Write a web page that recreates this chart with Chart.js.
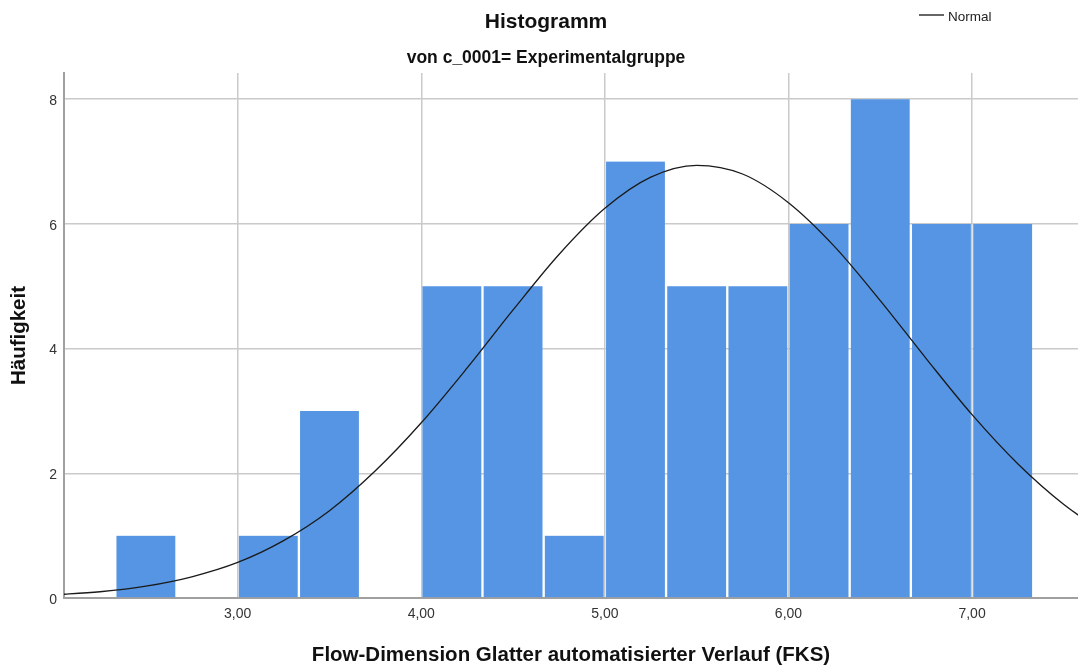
<!DOCTYPE html>
<html>
<head>
<meta charset="utf-8">
<title>Histogramm</title>
<script src="https://cdn.jsdelivr.net/npm/chart.js@4.4.1/dist/chart.umd.min.js"></script>
<style>
  html, body { margin: 0; padding: 0; background: #fff; }
  #wrap { width: 1078px; height: 670px; position: relative; }
</style>
</head>
<body>
<div id="wrap"><canvas id="histChart"></canvas></div>
<script>
// class midpoints (class width 1/3) and frequencies
const binMids = [2.5, 2.8333, 3.1667, 3.5, 3.8333, 4.1667, 4.5, 4.8333, 5.1667, 5.5, 5.8333, 6.1667, 6.5, 6.8333, 7.1667];
const counts  = [1, 0, 1, 3, 0, 5, 5, 1, 7, 5, 5, 6, 8, 6, 6];

// normal curve, read every 0.25
const curveX = [2.0, 2.25, 2.5, 2.75, 3.0, 3.25, 3.5, 3.75, 4.0, 4.25, 4.5, 4.75, 5.0, 5.25, 5.5, 5.75, 6.0, 6.25, 6.5, 6.75, 7.0, 7.25, 7.5, 7.75];
const curveY = [0.05, 0.10, 0.19, 0.34, 0.57, 0.92, 1.40, 2.04, 2.81, 3.69, 4.62, 5.51, 6.25, 6.75, 6.94, 6.80, 6.34, 5.64, 4.77, 3.84, 2.94, 2.15, 1.50, 0.99];

const xTicks = [3, 4, 5, 6, 7];
const yTicks = [0, 2, 4, 6, 8];

const FONT = '"Liberation Sans", Arial, sans-serif';

// title, subtitle and the little legend entry above the plot
const headerText = {
  id: 'headerText',
  afterDraw(chart) {
    const c = chart.ctx;
    c.save();
    c.fillStyle = '#111';
    c.textAlign = 'center';
    c.textBaseline = 'alphabetic';
    c.font = 'bold 21px ' + FONT;
    c.fillText('Histogramm', 546, 28);
    c.font = 'bold 17.5px ' + FONT;
    c.fillText('von c_0001= Experimentalgruppe', 546, 63);

    c.strokeStyle = '#333';
    c.lineWidth = 1.5;
    c.beginPath();
    c.moveTo(919, 15);
    c.lineTo(944, 15);
    c.stroke();
    c.textAlign = 'left';
    c.font = '13.5px ' + FONT;
    c.fillStyle = '#222';
    c.fillText('Normal', 948, 21);
    c.restore();
  }
};

const ctx = document.getElementById('histChart').getContext('2d');
const histChart = new Chart(ctx, {
  type: 'bar',
  data: {
    datasets: [
      {
        type: 'line',
        label: 'Normal',
        data: curveX.map((x, i) => ({ x: x, y: curveY[i] })),
        borderColor: '#1a1a1a',
        borderWidth: 1.3,
        pointRadius: 0,
        cubicInterpolationMode: 'monotone',
        order: 0
      },
      {
        label: 'Häufigkeit',
        data: binMids.map((x, i) => ({ x: x, y: counts[i] })),
        backgroundColor: '#5595e3',
        borderColor: 'rgba(255,255,255,0)',
        borderWidth: { left: 1.5, right: 1.5, top: 0, bottom: 0 },
        borderSkipped: false,
        barPercentage: 1,
        categoryPercentage: 1,
        order: 1
      }
    ]
  },
  options: {
    responsive: true,
    maintainAspectRatio: false,
    animation: false,
    layout: { padding: { top: 73, left: 0, right: 0, bottom: 0 } },
    plugins: {
      legend: { display: false },
      title: { display: false },
      tooltip: { enabled: false }
    },
    scales: {
      x: {
        type: 'linear',
        min: 2.054,
        max: 7.577,
        offset: false,
        afterBuildTicks: s => { s.ticks = xTicks.map(v => ({ value: v })); },
        afterFit: s => { s.height = 72; },
        ticks: {
          callback: v => v.toFixed(2).replace('.', ','),
          font: { family: FONT, size: 14 },
          color: '#333',
          padding: 8,
          maxRotation: 0,
          autoSkip: false
        },
        grid: { color: '#cacaca', lineWidth: 1.5, drawTicks: false, offset: false },
        border: { color: '#a0a0a0', width: 2 },
        title: {
          display: true,
          text: 'Flow-Dimension Glatter automatisierter Verlauf (FKS)',
          font: { family: FONT, size: 20.5, weight: 'bold' },
          color: '#111',
          padding: { top: 0, bottom: 2 }
        }
      },
      y: {
        min: 0,
        max: 8.42,
        afterBuildTicks: s => { s.ticks = yTicks.map(v => ({ value: v })); },
        afterFit: s => { s.width = 64; },
        ticks: {
          font: { family: FONT, size: 14 },
          color: '#333',
          padding: 7,
          labelOffset: 2
        },
        grid: { color: '#cacaca', lineWidth: 1.5, drawTicks: false },
        border: { color: '#a0a0a0', width: 2 },
        title: {
          display: true,
          text: 'Häufigkeit',
          font: { family: FONT, size: 20.5, weight: 'bold' },
          color: '#111',
          padding: { top: 7, bottom: 0 }
        }
      }
    }
  },
  plugins: [headerText]
});
</script>
</body>
</html>
